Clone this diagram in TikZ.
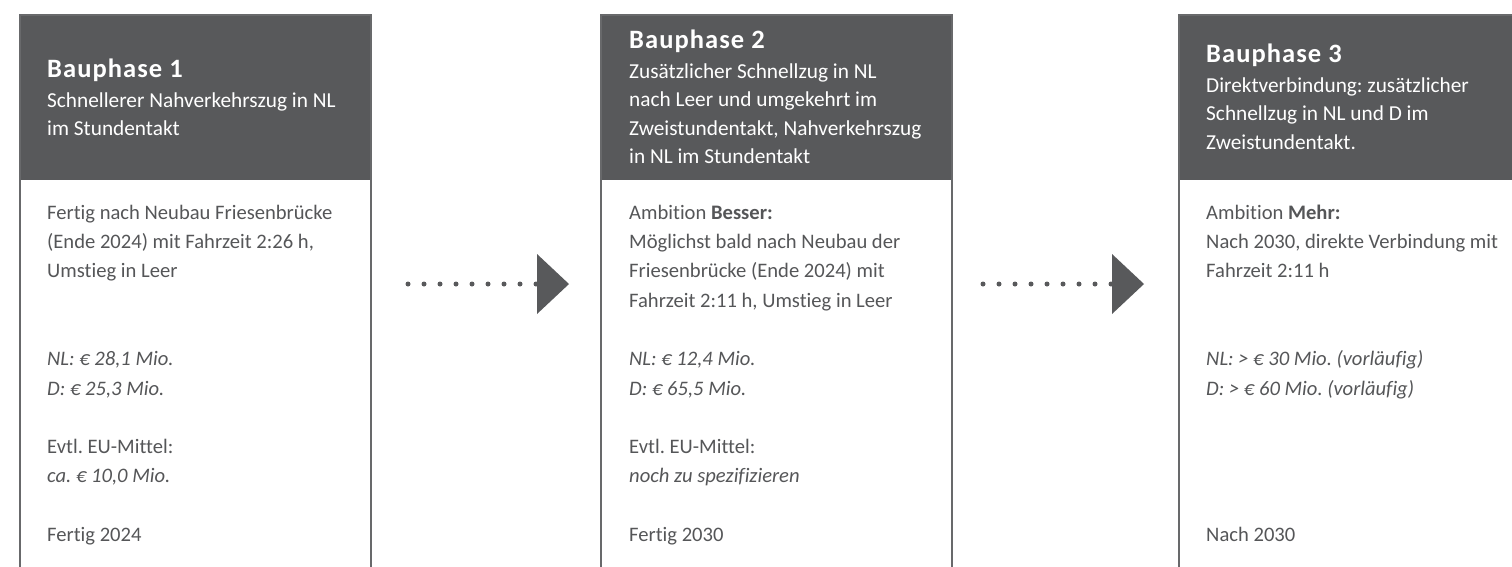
\documentclass[tikz,border=0pt]{standalone}
\usepackage{fontspec}
\setmainfont{Carlito}[Ligatures=NoCommon]
\usetikzlibrary{arrows.meta}
\definecolor{hdr}{HTML}{58595B}
\definecolor{txt}{HTML}{555658}
\definecolor{brd}{HTML}{68696B}
\frenchspacing
\tikzset{
  hdrbox/.style={fill=hdr, draw=none, anchor=north west, minimum width=351pt, minimum height=165pt, inner sep=0pt, outer sep=0pt},
  hdrtxt/.style={anchor=north west, inner sep=0pt, align=left, text=white, font=\fontsize{21.3}{28.5}\selectfont},
  bodytxt/.style={anchor=north west, inner sep=0pt, align=left, text=txt, font=\fontsize{20.6}{29.3}\selectfont},
  frame/.style={draw=brd, line width=2pt},
  dotarrow/.style={draw=hdr, line width=5pt, line cap=round, dash pattern=on 0pt off 16pt,
     -{Triangle[length=32pt,width=60pt,line width=0pt]}},
}
\newcommand{\ttl}[1]{{\fontsize{26.5}{28.5}\selectfont\bfseries\addfontfeatures{LetterSpace=4}#1}}
\newcommand{\fst}{\rule{0pt}{24pt}}
\begin{document}
\begin{tikzpicture}[x=1pt,y=-1pt]
\useasboundingbox (0,0) rectangle (1512,566);
\clip (0,0) rectangle (1512,566);
% box 1
\node[hdrbox] (h1) at (20,15) {};
\draw[frame] (h1.north west) rectangle ++(351,600);
\node[hdrtxt] (ht1) at (47,53) {\fst\ttl{Bauphase 1}\\[1.5pt]
Schnellerer Nahverkehrszug in NL\\
im Stundentakt};
\node[bodytxt] (bt1) at (47,195) {\fst Fertig nach Neubau Friesenbrücke\\
(Ende 2024) mit Fahrzeit 2:26 h,\\
Umstieg in Leer\\[58.6pt]
\textit{NL: € 28,1 Mio.}\\
\textit{D: € 25,3 Mio.}\\[29.3pt]
Evtl. EU-Mittel:\\
\textit{ca. € 10,0 Mio.}\\[29.3pt]
Fertig 2024};
% box 2
\node[hdrbox] (h2) at (601,15) {};
\draw[frame] (h2.north west) rectangle ++(351,600);
\node[hdrtxt] (ht2) at (629,24) {\fst\ttl{Bauphase 2}\\[1.5pt]
Zusätzlicher Schnellzug in NL\\
nach Leer und umgekehrt im\\
Zweistundentakt, Nahverkehrszug\\
in NL im Stundentakt};
\node[bodytxt] (bt2) at (629,195) {\fst Ambition \textbf{Besser:}\\
Möglichst bald nach Neubau der\\
Friesenbrücke (Ende 2024) mit\\
Fahrzeit 2:11 h, Umstieg in Leer\\[29.3pt]
\textit{NL: € 12,4 Mio.}\\
\textit{D: € 65,5 Mio.}\\[29.3pt]
Evtl. EU-Mittel:\\
\textit{noch zu spezifizieren}\\[29.3pt]
Fertig 2030};
% box 3
\node[hdrbox] (h3) at (1179,15) {};
\draw[frame] (h3.north west) rectangle ++(351,600);
\node[hdrtxt] (ht3) at (1206,38) {\fst\ttl{Bauphase 3}\\[1.5pt]
Direktverbindung: zusätzlicher\\
Schnellzug in NL und D im\\
Zweistundentakt.};
\node[bodytxt] (bt3) at (1206,195) {\fst Ambition \textbf{Mehr:}\\
Nach 2030, direkte Verbindung mit\\
Fahrzeit 2:11 h\\[58.6pt]
\textit{NL: > € 30 Mio. (vorläufig)}\\
\textit{D: > € 60 Mio. (vorläufig)}\\[117.2pt]
Nach 2030};
% arrows
\coordinate (a1s) at (408,284);
\coordinate (a1e) at (569,284);
\coordinate (a2s) at (983,284);
\coordinate (a2e) at (1144,284);
\draw[dotarrow] (a1s) -- (a1e);
\draw[dotarrow] (a2s) -- (a2e);
\end{tikzpicture}
\end{document}
